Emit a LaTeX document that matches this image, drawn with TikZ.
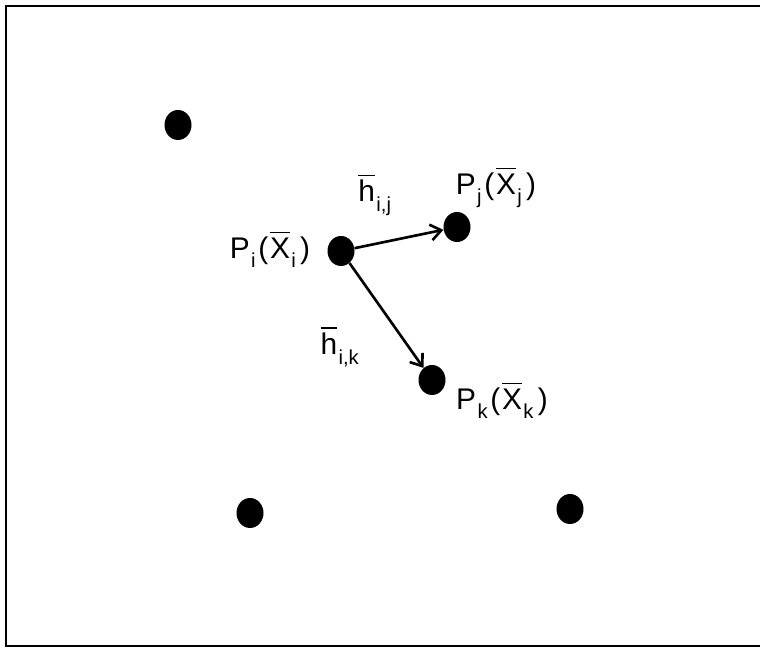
\documentclass[tikz,border=0pt]{standalone}
\usepackage{fontspec}
\setmainfont{Liberation Sans}
\usetikzlibrary{arrows.meta,shapes.geometric}

% bar over a letter, with a small gap
\newcommand{\ovl}[1]{\setbox0\hbox{#1}\rlap{\raisebox{\dimexpr\ht0+2.5pt\relax}{\rule{\wd0}{0.7pt}}}\box0}
% lowered index
\newcommand{\idx}[1]{\kern0.8pt\raisebox{-0.6ex}{\fontsize{11.5}{12}\selectfont #1}\kern1.5pt}
\newcommand{\pnt}[1]{P\idx{#1}(\kern1pt\ovl{X}\idx{#1}\kern1pt)}

\begin{document}
\begin{tikzpicture}[
    x=0.2mm, y=-0.2mm,
    font=\fontsize{17}{19}\selectfont,
    >={Straight Barb[length=6pt,width=9pt]},
    pt/.style={ellipse, fill=black, inner sep=0pt, minimum width=0.54cm, minimum height=0.6cm},
    lbl/.style={inner sep=1pt}
  ]
  \useasboundingbox (0,0) rectangle (760,648);

  % open frame (no right side)
  \draw[line width=1.2pt] (762,6) -- (6,6) -- (6,646) -- (762,646);

  % points
  \node[pt] (p1) at (178,125) {};
  \node[pt] (pi) at (341,251) {};
  \node[pt] (pj) at (457,227) {};
  \node[pt] (pk) at (432,380) {};
  \node[pt] (p5) at (250,513) {};
  \node[pt] (p6) at (570,509) {};

  % labels
  \node[lbl] (li) at (270,250) {\pnt{i}};
  \node[lbl] (lj) at (496,188) {\pnt{j}};
  \node[lbl] (lk) at (502,401) {\pnt{k}};
  \node[lbl] (hij) at (376,195) {\ovl{h}\idx{i,j}};
  \node[lbl] (hik) at (341,347) {\ovl{h}\idx{i,k}};

  % vectors
  \draw[->, line width=1.5pt] (pi) -- (pj);
  \draw[->, line width=1.5pt] (pi) -- (pk);

\end{tikzpicture}
\end{document}
